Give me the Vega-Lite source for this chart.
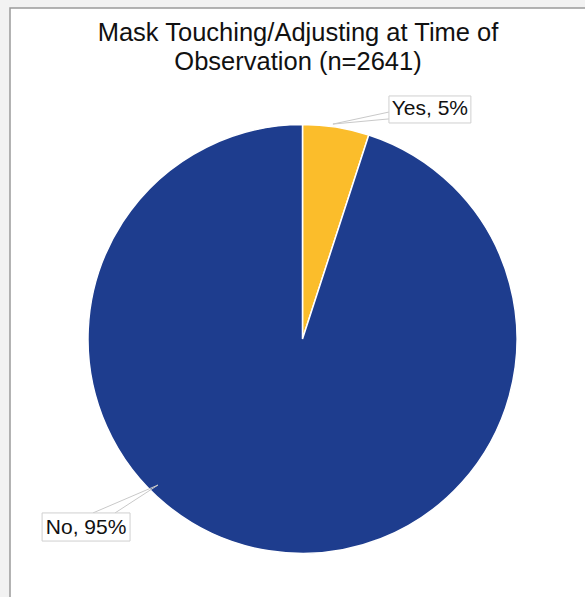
{
  "$schema": "https://vega.github.io/schema/vega-lite/v6.json",
  "autosize": "none",
  "padding": {"left": 10, "top": 8, "right": 0, "bottom": 0},
  "width": 576,
  "height": 590,
  "background": "#f2f2f2",
  "title": {
    "text": ["Mask Touching/Adjusting at Time of", "Observation (n=2641)"],
    "font": "Liberation Sans",
    "fontSize": 25.5,
    "fontWeight": "normal",
    "color": "#111111",
    "lineHeight": 28.5,
    "anchor": "middle",
    "baseline": "top",
    "offset": -67
  },
  "datasets": {
    "slices": [
      {"answer": "Yes", "pct": 5, "ord": 1, "cx": 0, "cy": 0},
      {"answer": "No", "pct": 95, "ord": 2, "cx": 0, "cy": 0}
    ],
    "boxes": [
      {"label": "Yes, 5%", "x1": 40.3, "x2": 78.5, "y1": 100.7, "y2": 113.3, "tx": 59.4, "ty": 107.0},
      {"label": "No, 95%", "x1": -121.4, "x2": -80.4, "y1": -94.2, "y2": -81.1, "tx": -100.9, "ty": -88.3}
    ],
    "leaders": [
      {"x1": 14.2, "y1": 100.2, "x2": 40.3, "y2": 105.8},
      {"x1": 14.2, "y1": 100.2, "x2": 40.3, "y2": 102.6},
      {"x1": -67.4, "y1": -68.1, "x2": -97.7, "y2": -81.1},
      {"x1": -67.4, "y1": -68.1, "x2": -87.4, "y2": -81.1}
    ]
  },
  "layer": [
    {
      "data": {"name": "slices"},
      "mark": {"type": "arc", "radius": 214.5, "stroke": "white", "strokeWidth": 1.5},
      "encoding": {
        "x": {"field": "cx", "type": "quantitative", "scale": {"domain": [-136.36, 132.17], "nice": false, "zero": false}, "axis": null},
        "y": {"field": "cy", "type": "quantitative", "scale": {"domain": [-120.75, 154.31], "nice": false, "zero": false}, "axis": null},
        "theta": {"field": "pct", "type": "quantitative", "stack": true},
        "order": {"field": "ord", "type": "quantitative"},
        "color": {"field": "answer", "type": "nominal", "scale": {"domain": ["Yes", "No"], "range": ["#fbbd2b", "#1e3d8e"]}, "legend": null}
      }
    },
    {
      "data": {"name": "leaders"},
      "mark": {"type": "rule", "stroke": "#c9c9c9", "strokeWidth": 1},
      "encoding": {
        "x": {"field": "x1", "type": "quantitative"},
        "y": {"field": "y1", "type": "quantitative"},
        "x2": {"field": "x2"},
        "y2": {"field": "y2"}
      }
    },
    {
      "data": {"name": "boxes"},
      "mark": {"type": "rect", "fill": "white", "stroke": "#cfcfcf", "strokeWidth": 1},
      "encoding": {
        "x": {"field": "x1", "type": "quantitative"},
        "x2": {"field": "x2"},
        "y": {"field": "y1", "type": "quantitative"},
        "y2": {"field": "y2"}
      }
    },
    {
      "data": {"name": "boxes"},
      "mark": {"type": "text", "font": "Liberation Sans", "fontSize": 21, "color": "#111111", "align": "center", "baseline": "middle"},
      "encoding": {
        "x": {"field": "tx", "type": "quantitative"},
        "y": {"field": "ty", "type": "quantitative"},
        "text": {"field": "label"}
      }
    }
  ],
  "config": {
    "view": {"stroke": "#9a9a9a", "strokeWidth": 1.5, "fill": "white"}
  }
}
